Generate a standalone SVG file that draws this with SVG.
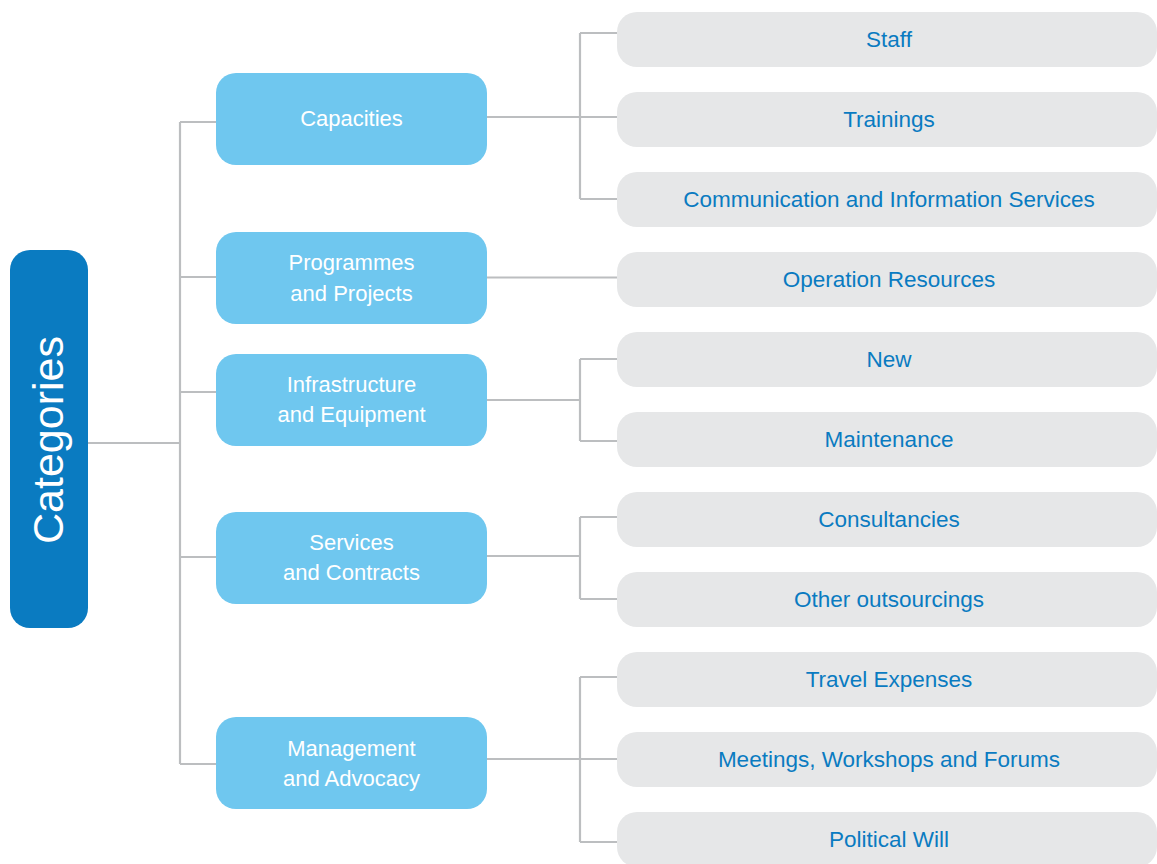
<svg xmlns="http://www.w3.org/2000/svg" width="1157" height="864" viewBox="0 0 1157 864">
<style>
.root{fill:#0a7bc1}
.mid{fill:#6fc7ef}
.leaf{fill:#e6e7e8}
.conn{fill:none;stroke:#bcbec0;stroke-width:2.2}
.mt{font-family:"Liberation Sans",Arial,sans-serif;font-size:22px;fill:#ffffff;text-anchor:middle}
.lt{font-family:"Liberation Sans",Arial,sans-serif;font-size:22.5px;fill:#0a7bc1;text-anchor:middle}
.rt{font-family:"Liberation Sans",Arial,sans-serif;font-size:43px;fill:#ffffff;text-anchor:middle}
</style>
<rect width="1157" height="864" fill="#ffffff"/>
<g id="connectors">
<path class="conn" d="M88 443H180"/>
<path class="conn" d="M180 122V764"/>
<path class="conn" d="M180 122H216M180 277H216M180 392H216M180 557H216M180 764H216"/>
<path class="conn" d="M487 117H617M580 33V199M580 33H617M580 199H617"/>
<path class="conn" d="M487 277.5H617"/>
<path class="conn" d="M487 400H580M580 359V441M580 359H617M580 441H617"/>
<path class="conn" d="M487 556H580M580 517V599M580 517H617M580 599H617"/>
<path class="conn" d="M487 759H617M580 677V842M580 677H617M580 842H617"/>
</g>
<g id="categories">
<rect class="root" x="10" y="250" width="78" height="378" rx="20"/>
<text class="rt" transform="translate(63,440) rotate(-90)">Categories</text>
</g>
<g id="capacities">
<rect class="mid" x="216" y="73" width="271" height="92" rx="20"/>
<text class="mt" x="351.5" y="126">Capacities</text>
</g>
<g id="programmes">
<rect class="mid" x="216" y="232" width="271" height="92" rx="20"/>
<text class="mt" x="351.5" y="270">Programmes</text>
<text class="mt" x="351.5" y="301">and Projects</text>
</g>
<g id="infrastructure">
<rect class="mid" x="216" y="354" width="271" height="92" rx="20"/>
<text class="mt" x="351.5" y="392">Infrastructure</text>
<text class="mt" x="351.5" y="422">and Equipment</text>
</g>
<g id="services">
<rect class="mid" x="216" y="512" width="271" height="92" rx="20"/>
<text class="mt" x="351.5" y="550">Services</text>
<text class="mt" x="351.5" y="580">and Contracts</text>
</g>
<g id="management">
<rect class="mid" x="216" y="717" width="271" height="92" rx="20"/>
<text class="mt" x="351.5" y="756">Management</text>
<text class="mt" x="351.5" y="786">and Advocacy</text>
</g>
<g id="staff"><rect class="leaf" x="617" y="12" width="540" height="55" rx="20"/><text class="lt" x="889" y="47">Staff</text></g>
<g id="trainings"><rect class="leaf" x="617" y="92" width="540" height="55" rx="20"/><text class="lt" x="889" y="127">Trainings</text></g>
<g id="communication"><rect class="leaf" x="617" y="172" width="540" height="55" rx="20"/><text class="lt" x="889" y="207">Communication and Information Services</text></g>
<g id="operation"><rect class="leaf" x="617" y="252" width="540" height="55" rx="20"/><text class="lt" x="889" y="287">Operation Resources</text></g>
<g id="new"><rect class="leaf" x="617" y="332" width="540" height="55" rx="20"/><text class="lt" x="889" y="367">New</text></g>
<g id="maintenance"><rect class="leaf" x="617" y="412" width="540" height="55" rx="20"/><text class="lt" x="889" y="447">Maintenance</text></g>
<g id="consultancies"><rect class="leaf" x="617" y="492" width="540" height="55" rx="20"/><text class="lt" x="889" y="527">Consultancies</text></g>
<g id="outsourcings"><rect class="leaf" x="617" y="572" width="540" height="55" rx="20"/><text class="lt" x="889" y="607">Other outsourcings</text></g>
<g id="travel"><rect class="leaf" x="617" y="652" width="540" height="55" rx="20"/><text class="lt" x="889" y="687">Travel Expenses</text></g>
<g id="meetings"><rect class="leaf" x="617" y="732" width="540" height="55" rx="20"/><text class="lt" x="889" y="767">Meetings, Workshops and Forums</text></g>
<g id="political"><rect class="leaf" x="617" y="812" width="540" height="55" rx="20"/><text class="lt" x="889" y="847">Political Will</text></g>
</svg>
